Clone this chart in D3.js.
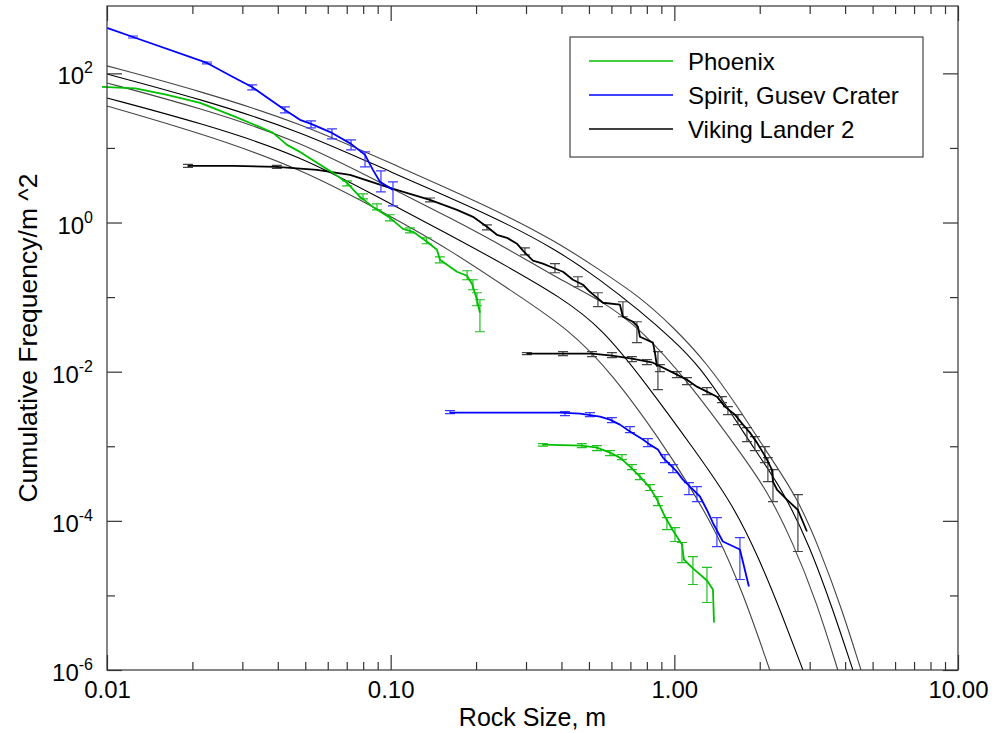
<!DOCTYPE html>
<html>
<head>
<meta charset="utf-8">
<script src="https://cdn.jsdelivr.net/npm/d3@7"></script>
<style>
body { margin: 0; background: #fff; }
text { font-family: "Liberation Sans", Arial, Helvetica, sans-serif; }
</style>
</head>
<body>
<svg id="chart" width="995" height="733"></svg>
<script>
// rock size (m), cumulative frequency per m^2
const phoenixA = [[0.0096,65.7],[0.0126,63],[0.0163,51.4],[0.0213,40.1],[0.0278,26.9],[0.0346,19.1],[0.0385,15.9],[0.0431,11.0],[0.0479,8.85],[0.055,6.31],[0.0626,4.63],[0.0702,3.40],[0.0779,2.21],[0.0866,1.62],[0.0994,1.156],[0.1105,0.823],[0.120,0.750],[0.1343,0.551],[0.1456,0.431],[0.1492,0.316],[0.1713,0.2186],[0.1857,0.1932],[0.1935,0.151],[0.2015,0.0921],[0.2064,0.0617]];
const phoenixB = [[0.344,0.001052],[0.4724,0.00102],[0.5336,0.000959],[0.593,0.000822],[0.643,0.000705],[0.6975,0.000534],[0.7564,0.000392],[0.820,0.000279],[0.8684,0.000193],[0.9266,0.0001142],[0.989,7.41e-5],[1.064,4.81e-5],[1.081,3.03e-5],[1.163,2.30e-5],[1.303,1.586e-5],[1.368,1.2e-5],[1.38,4.34e-6]];
const spiritA = [[0.01,406],[0.01235,307],[0.02252,138],[0.0278,89.5],[0.03245,65.7],[0.04241,32.3],[0.0479,23.8],[0.0524,21.0],[0.0621,15.9],[0.0725,11.33],[0.0812,8.07],[0.0866,5.08],[0.0917,3.51],[0.1019,2.74]];
const spiritB = [[0.1618,0.002824],[0.3953,0.002824],[0.4648,0.002738],[0.5468,0.002496],[0.593,0.002275],[0.643,0.00195],[0.6975,0.001572],[0.775,0.001228],[0.820,0.001052],[0.8753,0.000902],[0.9116,0.000705],[0.965,0.000568],[1.021,0.000457],[1.072,0.000357],[1.135,0.000288],[1.231,0.000212],[1.303,0.0001398],[1.368,9.36e-5],[1.425,6.97e-5],[1.483,5.28e-5],[1.703,4.12e-5],[1.832,1.318e-5]];
const vikingA = [[0.0193,5.75],[0.0278,5.75],[0.0397,5.57],[0.055,5.08],[0.0719,4.36],[0.0994,2.92],[0.1376,2.01],[0.1713,1.48],[0.1951,1.192],[0.2185,0.876],[0.2369,0.684],[0.257,0.624],[0.2787,0.52],[0.2926,0.419],[0.3174,0.3078],[0.344,0.2806],[0.3733,0.2473],[0.4049,0.2186],[0.4391,0.1708],[0.4763,0.1464],[0.504,0.1179],[0.5336,0.0982],[0.5603,0.084],[0.643,0.079],[0.6588,0.0545],[0.7145,0.0467],[0.7439,0.0401],[0.7564,0.0294],[0.8405,0.0245],[0.8544,0.01797],[0.8684,0.01167]];
const vikingB = [[0.3022,0.01742],[0.4049,0.01742],[0.5125,0.01742],[0.6026,0.01638],[0.7086,0.01493],[0.8405,0.0132],[0.989,0.0097],[1.108,0.00781],[1.201,0.0063],[1.303,0.0054],[1.413,0.00462],[1.508,0.003397],[1.635,0.002655],[1.745,0.00195],[1.847,0.001524],[1.955,0.001119],[2.053,0.000822],[2.120,0.000663],[2.208,0.000487],[2.227,0.000336],[2.300,0.000263],[2.494,0.000193],[2.727,0.0001398],[2.934,7.19e-5]];

// error bars: [size, low, high]
const phoenixErrA = [[0.0702,3.10,3.62],[0.0799,2.08,2.42],[0.0895,1.48,1.78],[0.0994,1.05,1.27],[0.117,0.728,0.849],[0.134,0.519,0.624],[0.149,0.2885,0.347],[0.186,0.1708,0.2254],[0.195,0.1254,0.1708],[0.2015,0.0766,0.1144],[0.2064,0.0343,0.0921]];
const phoenixErrB = [[0.344,0.001005,0.001085],[0.472,0.000959,0.001085],[0.534,0.000874,0.00102],[0.593,0.000749,0.000874],[0.6536,0.000663,0.000773],[0.7086,0.000487,0.000568],[0.756,0.000357,0.00043],[0.820,0.000255,0.000306],[0.8753,0.00016,0.000212],[0.9417,7.64e-5,0.0001107],[1.005,5.28e-5,8.13e-5],[1.064,2.76e-5,5.12e-5],[1.163,1.401e-5,3.32e-5],[1.303,8.04e-6,2.37e-5]];
const spiritErrA = [[0.01235,298,317],[0.02252,133.6,142],[0.0325,59.9,69.9],[0.0424,29.5,35.5],[0.0524,18.6,23.0],[0.0621,13.2,18.0],[0.0725,9.42,12.8],[0.0812,5.57,8.85],[0.0924,2.58,4.93],[0.1019,1.674,3.51]];
const spiritErrB = [[0.1618,0.002738,0.003003],[0.4115,0.002575,0.002912],[0.504,0.002496,0.002824],[0.6026,0.002074,0.00242],[0.6975,0.001524,0.001833],[0.807,0.000989,0.001266],[0.9266,0.000604,0.000773],[0.989,0.000444,0.000568],[1.126,0.000225,0.000326],[1.201,0.0001814,0.000288],[1.413,4.52e-5,0.0001107],[1.703,1.636e-5,5.97e-5]];
const vikingErrA = [[0.0193,5.49,6.02],[0.0397,5.32,5.84],[0.1376,1.894,2.13],[0.2185,0.798,0.932],[0.2974,0.3693,0.4583],[0.3795,0.212,0.2806],[0.4572,0.1376,0.1874],[0.5379,0.0743,0.1144],[0.6588,0.0545,0.0866],[0.738,0.0245,0.0467],[0.8753,0.00574,0.01853]];
const vikingErrB = [[0.3022,0.01689,0.01797],[0.4049,0.01638,0.01853],[0.5125,0.01588,0.01853],[0.6026,0.0154,0.01797],[0.7086,0.01361,0.01588],[0.8006,0.01241,0.01448],[0.8897,0.01,0.01241],[1.021,0.00831,0.01],[1.108,0.0067,0.00831],[1.303,0.00492,0.0061],[1.472,0.003843,0.00462],[1.545,0.002655,0.003397],[1.676,0.00195,0.002655],[1.803,0.001154,0.001778],[1.923,0.000874,0.001347],[2.086,0.000604,0.000989],[2.137,0.000336,0.000705],[2.227,0.0001814,0.000487],[2.727,3.88e-5,0.000225]];

// model curves (thin lines)
const model1 = [[0.01,126],[0.0213,58],[0.0479,21.7],[0.0994,6.3],[0.224,1.62],[0.386,0.55],[0.547,0.23],[0.756,0.101],[0.989,0.040],[1.30,0.0132],[1.70,0.0031],[2.09,0.0009],[2.71,0.00021],[3.26,4.1e-5],[3.90,6.5e-6],[4.55,1.0e-6]];
const model2 = [[0.01,98],[0.0213,45.4],[0.0479,16.9],[0.0994,4.78],[0.224,1.27],[0.386,0.43],[0.547,0.171],[0.756,0.0656],[0.989,0.0268],[1.23,0.0117],[1.55,0.0032],[1.92,0.0009],[2.41,0.00026],[3.01,4.5e-5],[3.62,6.5e-6],[4.26,1.0e-6]];
const model3 = [[0.01,74.4],[0.0213,34.4],[0.0479,12.4],[0.0994,2.92],[0.162,1.16],[0.263,0.43],[0.395,0.171],[0.547,0.092],[0.756,0.0388],[1.135,0.0069],[1.68,0.0009],[2.12,0.00026],[2.62,5.1e-5],[3.18,8.0e-6],[3.77,1.0e-6]];
const model4 = [[0.01,46.8],[0.0213,21.7],[0.0479,8.07],[0.0994,1.78],[0.162,0.684],[0.263,0.247],[0.395,0.101],[0.556,0.0388],[0.80,0.0067],[1.19,0.00085],[1.61,0.000165],[2.00,3.0e-5],[2.41,5.2e-6],[2.84,1.0e-6]];
const model5 = [[0.01,36.6],[0.0213,15.9],[0.0479,5.4],[0.0994,1.23],[0.162,0.43],[0.263,0.125],[0.4285,0.0365],[0.608,0.0091],[0.89,0.00123],[1.135,0.000288],[1.41,7.0e-5],[1.745,1.1e-5],[2.17,1.0e-6]];

const xMajor = [0.01, 0.1, 1, 10];
const xLabels = ["0.01", "0.10", "1.00", "10.00"];
const xMinor = [0.02,0.03,0.04,0.05,0.06,0.07,0.08,0.09,0.2,0.3,0.4,0.5,0.6,0.7,0.8,0.9,2,3,4,5,6,7,8,9];
const yMajor = [1e-6, 1e-4, 1e-2, 1, 1e2];
const yExp = ["-6", "-4", "-2", "0", "2"];
const yMinor = [1e-5, 1e-3, 1e-1, 10];

const legendLabels = ["Phoenix", "Spirit, Gusev Crater", "Viking Lander 2"];
const legendColors = ["#00c000", "#0000ff", "#000000"];

const svg = d3.select("#chart");
const margin = { top: 6, right: 37, bottom: 63, left: 107 };
const width = 995, height = 733;

const x = d3.scaleLog()
    .domain([0.01, 10])
    .range([margin.left, width - margin.right]);

const y = d3.scaleLog()
    .domain([1e-6, 800])
    .range([height - margin.bottom, margin.top]);

const line = d3.line().x(d => x(d[0])).y(d => y(d[1]));
const smooth = d3.line().x(d => x(d[0])).y(d => y(d[1])).curve(d3.curveBasis);

// model curves
const models = [model1, model2, model3, model4, model5];
svg.append("g").selectAll("path")
    .data(models)
    .enter().append("path")
    .attr("d", smooth)
    .attr("fill", "none")
    .attr("stroke", (d, i) => i % 2 ? "#000" : "#444")
    .attr("stroke-width", 1.1);

function drawErrors(data, color) {
    const g = svg.append("g").attr("stroke", color).attr("stroke-width", 1.2).attr("fill", "none");
    g.selectAll("path")
        .data(data)
        .enter().append("path")
        .attr("d", d => {
            const cx = x(d[0]), lo = y(d[1]), hi = y(d[2]);
            return `M${cx},${lo}V${hi}M${cx - 5},${lo}H${cx + 5}M${cx - 5},${hi}H${cx + 5}`;
        });
}

function drawSeries(data, color) {
    svg.append("path")
        .datum(data)
        .attr("d", line)
        .attr("fill", "none")
        .attr("stroke", color)
        .attr("stroke-width", 1.8)
        .attr("stroke-linejoin", "round");
}

drawErrors(vikingErrA, "#444");
drawErrors(vikingErrB, "#444");
drawSeries(vikingA, "#000");
drawSeries(vikingB, "#000");
drawErrors(spiritErrA, "#3a3aff");
drawErrors(spiritErrB, "#3a3aff");
drawSeries(spiritA, "#0000ff");
drawSeries(spiritB, "#0000ff");
drawErrors(phoenixErrA, "#22c022");
drawErrors(phoenixErrB, "#22c022");
drawSeries(phoenixA, "#00c000");
drawSeries(phoenixB, "#00c000");

// frame
svg.append("rect")
    .attr("x", margin.left).attr("y", margin.top)
    .attr("width", width - margin.left - margin.right)
    .attr("height", height - margin.top - margin.bottom)
    .attr("fill", "none").attr("stroke", "#444").attr("stroke-width", 1.3);

function styleAxis(g) {
    g.select(".domain").remove();
    g.selectAll(".tick line").attr("stroke", "#333").attr("stroke-width", 1.2);
}

const bottom = height - margin.bottom, right = width - margin.right;

svg.append("g")
    .attr("transform", `translate(0,${bottom})`)
    .call(d3.axisBottom(x).tickValues(xMajor).tickSize(-15).tickPadding(28).tickFormat((d, i) => xLabels[i]))
    .call(styleAxis)
    .selectAll("text")
    .attr("font-size", 24).attr("fill", "#000")
    .attr("font-family", "Liberation Sans, Arial, sans-serif")
    .attr("dy", 0);
svg.append("g")
    .attr("transform", `translate(0,${bottom})`)
    .call(d3.axisBottom(x).tickValues(xMinor).tickSize(-8).tickFormat(""))
    .call(styleAxis);
svg.append("g")
    .attr("transform", `translate(0,${margin.top})`)
    .call(d3.axisTop(x).tickValues(xMajor).tickSize(-15).tickFormat(""))
    .call(styleAxis);
svg.append("g")
    .attr("transform", `translate(0,${margin.top})`)
    .call(d3.axisTop(x).tickValues(xMinor).tickSize(-8).tickFormat(""))
    .call(styleAxis);

svg.append("g")
    .attr("transform", `translate(${margin.left},0)`)
    .call(d3.axisLeft(y).tickValues(yMajor).tickSize(-15).tickFormat(""))
    .call(styleAxis);
svg.append("g")
    .attr("transform", `translate(${margin.left},0)`)
    .call(d3.axisLeft(y).tickValues(yMinor).tickSize(-8).tickFormat(""))
    .call(styleAxis);
svg.append("g")
    .attr("transform", `translate(${right},0)`)
    .call(d3.axisRight(y).tickValues(yMajor).tickSize(-15).tickFormat(""))
    .call(styleAxis);
svg.append("g")
    .attr("transform", `translate(${right},0)`)
    .call(d3.axisRight(y).tickValues(yMinor).tickSize(-8).tickFormat(""))
    .call(styleAxis);

// y tick labels with superscript exponents
const yl = svg.append("g").selectAll("text")
    .data(yMajor)
    .enter().append("text")
    .attr("x", 93)
    .attr("y", d => y(d) + 11)
    .attr("text-anchor", "end")
    .attr("font-size", 24);
yl.append("tspan").text("10");
yl.append("tspan").attr("dy", -11).attr("font-size", 16).text((d, i) => yExp[i]);

// axis titles
svg.append("text")
    .attr("x", (margin.left + right) / 2)
    .attr("y", 726)
    .attr("text-anchor", "middle")
    .attr("font-size", 25)
    .text("Rock Size, m");

svg.append("text")
    .attr("transform", `translate(37,${(margin.top + bottom) / 2}) rotate(-90)`)
    .attr("text-anchor", "middle")
    .attr("font-size", 26.5)
    .text("Cumulative Frequency/m ^2");

// legend
const legend = svg.append("g");
legend.append("rect")
    .attr("x", 570).attr("y", 37).attr("width", 353).attr("height", 120)
    .attr("fill", "#fff").attr("stroke", "#444").attr("stroke-width", 1.2);
const items = legend.selectAll("g.item")
    .data(legendLabels)
    .enter().append("g")
    .attr("class", "item")
    .attr("transform", (d, i) => `translate(0,${61 + i * 34})`);
items.append("line")
    .attr("x1", 589).attr("x2", 673)
    .attr("stroke", (d, i) => legendColors[i])
    .attr("stroke-width", 1.6);
items.append("text")
    .attr("x", 688).attr("y", 8.5)
    .attr("font-size", 24)
    .text(d => d);
</script>
</body>
</html>
